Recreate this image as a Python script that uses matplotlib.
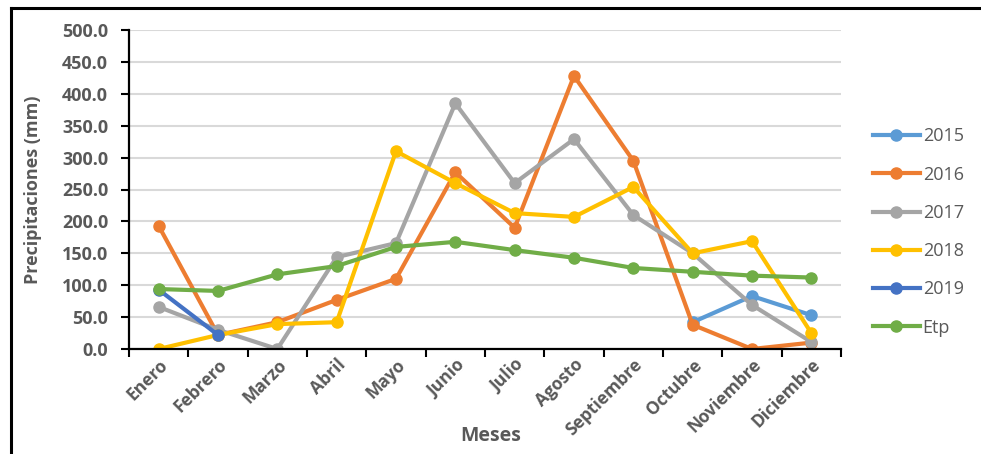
import numpy as np
import matplotlib.pyplot as plt
from matplotlib.lines import Line2D

meses = ["Enero", "Febrero", "Marzo", "Abril", "Mayo", "Junio", "Julio",
         "Agosto", "Septiembre", "Octubre", "Noviembre", "Diciembre"]

nan = np.nan
p2015 = [nan, nan, nan, nan, nan, nan, nan, nan, nan, 42, 83, 53]
p2016 = [193, 22, 42, 77, 110, 277, 190, 428, 295, 38, 0, 10]
p2017 = [66, 30, 0, 144, 166, 385, 260, 329, 210, 150, 69, 11]
p2018 = [0, 22, 39, 42, 310, 260, 213, 207, 254, 150, 169, 25]
p2019 = [93, 22, nan, nan, nan, nan, nan, nan, nan, nan, nan, nan]
etp = [94, 91, 117, 130, 160, 168, 155, 143, 127, 121, 115, 112]

series = [("2015", p2015, "#5B9BD5"), ("2016", p2016, "#ED7D31"),
          ("2017", p2017, "#A5A5A5"), ("2018", p2018, "#FFC000"),
          ("2019", p2019, "#4472C4"), ("Etp", etp, "#70AD47")]

plt.rcParams['font.family'] = ['Open Sans', 'DejaVu Sans']
gris = "#595959"

fig = plt.figure(figsize=(9.81, 4.54), dpi=100)
ax = fig.add_axes([129/981, 1-349/454, 712/981, 319/454])

x = np.arange(len(meses))
for nombre, vals, color in series:
    ax.plot(x, vals, color=color, lw=3.0, marker="o", ms=8, label=nombre)

ax.set_xlim(-0.5, 11.5)
ax.set_ylim(0, 500)
ax.set_yticks(np.arange(0, 501, 50))
ax.set_yticklabels([f"{v:.1f}" for v in np.arange(0, 501, 50)])
ax.yaxis.grid(True, color="#d9d9d9", lw=1.5)
ax.set_axisbelow(True)

# ticks entre categorias, etiquetas centradas
ax.set_xticks(np.arange(-0.5, 12, 1))
ax.set_xticklabels([])
ax.set_xticks(x, minor=True)
ax.set_xticklabels(meses, minor=True, rotation=45, ha="right",
                   rotation_mode="anchor", fontsize=12.5, fontweight="bold", color=gris)
ax.tick_params(axis="x", which="minor", length=0, pad=5)
ax.tick_params(axis="x", which="major", length=6, width=1.5, direction="out")
ax.tick_params(axis="y", length=6, width=1.5, direction="out", labelsize=13,
               labelcolor=gris, pad=9)
for t in ax.get_yticklabels():
    t.set_fontweight("bold")

for lado in ["top", "right"]:
    ax.spines[lado].set_visible(False)
for lado in ["left", "bottom"]:
    ax.spines[lado].set_linewidth(1.6)

ax.set_ylabel("Precipitaciones (mm)", fontsize=13, fontweight="bold", color=gris)
ax.yaxis.set_label_coords(-0.122, 0.5)
ax.set_xlabel("Meses", fontsize=14, fontweight="bold", color=gris)
ax.xaxis.set_label_coords(0.508, -0.242)

leg = fig.legend(loc="center left", bbox_to_anchor=(873/981, 1-232/454),
                 frameon=False, fontsize=13, handlelength=2.6, labelspacing=1.12,
                 borderpad=0, borderaxespad=0, handletextpad=0.15)
for t in leg.get_texts():
    t.set_color(gris)

# marco recortado de la imagen original
fig.add_artist(Line2D([10.5/981, 1], [1-7.5/454, 1-7.5/454], color="black", lw=2.2))
fig.add_artist(Line2D([10.5/981, 10.5/981], [0, 1-7.5/454], color="black", lw=2.2))

fig.savefig("out.png", dpi=100)
